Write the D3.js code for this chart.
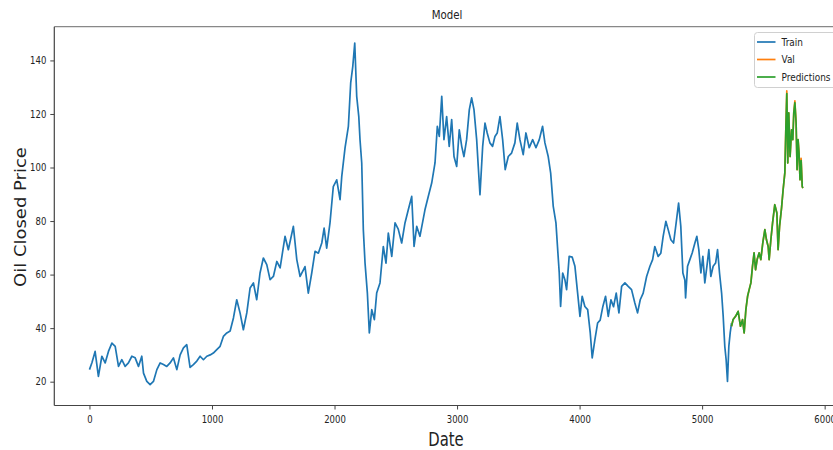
<!DOCTYPE html>
<html>
<head>
<meta charset="utf-8">
<script src="https://cdn.jsdelivr.net/npm/d3@7"></script>
<style>
  html, body { margin: 0; padding: 0; background: #ffffff; }
  svg { display: block; }
  text { font-family: "DejaVu Sans", sans-serif; fill: #222; }
</style>
</head>
<body>
<script>
// ---------------- DATA ----------------
const trainDay = [0,20,46,73,101,128,155,183,210,237,264,291,318,346,373,400,427,441,468,495,522,550,577,604,631,658,685,713,740,767,794,821,848,876,903,930,958,985,1011,1039,1066,1093,1121,1148,1175,1202,1229,1256,1284,1311,1338,1365,1392,1419,1447,1474,1501,1529,1556,1596,1623,1664,1692,1719,1746,1759,1786,1814,1841,1868,1896,1915,1936,1963,1990,2018,2045,2059,2086,2113,2132,2149,2165,2181,2198,2208,2222,2235,2249,2268,2284,2304,2325,2344,2371,2398,2420,2439,2467,2494,2520,2548,2575,2602,2630,2649,2671,2697,2738,2765,2793,2820,2839,2855,2875,2893,2915,2936,2956,2975,2997,3018,3038,3056,3078,3100,3119,3138,3160,3173,3187,3209,3228,3246,3268,3290,3309,3328,3350,3372,3393,3418,3445,3472,3491,3513,3540,3562,3589,3617,3644,3671,3698,3717,3744,3764,3785,3807,3823,3834,3845,3862,3880,3894,3915,3940,3962,3984,4003,4021,4043,4066,4087,4103,4125,4147,4168,4190,4212,4234,4256,4277,4299,4321,4343,4370,4397,4424,4451,4473,4495,4519,4547,4574,4596,4614,4641,4663,4682,4704,4723,4745,4767,4788,4808,4826,4843,4859,4865,4881,4900,4919,4941,4957,4973,4990,5006,5022,5039,5055,5071,5090,5110,5126,5142,5159,5172,5185,5196,5207,5218,5229,5240];
const trainClose = [24.5,27.1,31.3,22,29.5,27,31.3,34.4,33.2,25.7,28.2,25.7,27,29.5,28.9,25.7,29.5,23.2,20.1,18.9,20.1,24.5,27,26.4,25.7,27,28.9,24.5,30,32.6,33.8,25.3,26.4,27.7,29.5,28.2,29.5,30,30.7,32,33.2,36.9,38.2,38.9,43.8,50.6,45.7,39.4,45.7,55,56.9,50.6,60.6,66.2,63.7,58.1,59.3,64.9,62.5,74.3,69.3,78,65.6,59.3,61.8,63,53.1,60.6,68.7,68,71.8,77.4,69.9,79.3,92.9,95.4,88,96.7,107.4,115.4,131.6,137.8,146.5,126.6,119,110.4,101.7,76.8,64.3,53.1,38.2,46.9,43.2,53.1,56.9,70.5,64.3,75.5,66.8,79.3,77,71.8,79.3,84.2,89.2,70.5,78,74.3,84.2,89.2,94.2,101.7,115.4,111.6,126.6,110.4,119,107.9,117.9,104.1,100.4,114.1,107.9,104.1,110.4,121.6,126,121.6,110.4,100.4,89.8,107.9,116.6,112.9,109.2,107.9,111.6,112.9,119,110.4,99.2,104.1,105.4,109.2,116.6,110.4,104.8,112.9,107.4,110.4,107.4,110.4,115.4,109.2,104.1,97.9,85.5,79.3,68.1,60.6,48.1,60.6,58.1,54.4,66.8,66.5,63.1,53.1,44.4,51.9,48.1,46.9,38.2,28.9,35.7,41.9,43,48.1,51.9,44.4,50.6,48,53.1,45.7,55.6,56.9,55.6,54.4,49.4,45.7,50.6,53.1,59.3,63.1,65.6,70.5,66.8,68,74.3,79.9,76.8,73,71.8,79.3,86.7,78,60.6,58,51.3,63.1,65.6,68.1,71.8,74.3,69.3,60.6,66.8,56.9,63.1,69.3,59.3,63.1,64.3,69.3,60.6,53.1,44.4,33.2,28.2,20.1,33.2,38.2,41.9];

const valDay = [5240,5253,5273,5294,5313,5330,5343,5357,5371,5384,5398,5411,5424,5436,5449,5465,5479,5495,5512,5525,5539,5547,5561,5575,5593,5610,5620,5632,5648,5661,5675,5683,5691,5699,5707,5718,5730,5740,5748,5757,5767,5775,5783,5791,5799,5808,5817,5822];
const valClose = [40.7,43.2,44.4,46.3,40.7,43.2,38.2,46.9,51.9,54.4,56.9,63.1,68.1,61.8,65.6,68.1,65.6,71.8,76.8,73,70.5,65.6,73,79.3,86.1,83,69.3,78,84.8,91.7,98,114.1,128.6,101.7,120.4,104.1,114.1,110.4,120.4,124.9,116.6,99.2,110.4,105.4,95.4,103.4,92.9,92.3];
const predClose = [40.7,43.2,44.4,46.3,40.7,43.2,38.2,46.9,51.9,54.4,56.9,63.1,68.1,61.8,65.6,68.1,65.6,71.8,76.8,73,70.5,65.6,73,79.3,86.1,83,69.3,78,84.8,91.7,98,114.1,127.6,101.7,120.4,104.1,114.1,110.4,120.4,124.2,116.6,99.2,110.4,105.4,95.4,102.6,92.9,92.3];

const xTicks = [0,1000,2000,3000,4000,5000,6000];
const yTicks = [20,40,60,80,100,120,140];
const seriesNames = ["Train","Val","Predictions"];
const seriesColors = ["#1f77b4","#ff7f0e","#2ca02c"];

// ---------------- CHART ----------------
const W = 833, H = 450;
const L = 54.3, R = 838.5, T = 26.7, B = 405.5;
const SX = 0.85; // horizontal squeeze of the reference text

const svg = d3.select("body").append("svg").attr("width", W).attr("height", H);
svg.append("rect").attr("width", W).attr("height", H).attr("fill", "#fff");

const x = d3.scaleLinear().domain([-287, 6113]).range([L, R]);
const y = d3.scaleLinear().domain([11.1, 152.6]).range([B, T]);

svg.append("defs").append("clipPath").attr("id", "plot")
  .append("rect").attr("x", L).attr("y", T).attr("width", R - L).attr("height", B - T);

const line = d3.line().x(d => x(d[0])).y(d => y(d[1]));
const g = svg.append("g").attr("clip-path", "url(#plot)");

const trainData = trainDay.map((d, i) => [d, trainClose[i]]);
const valData = valDay.map((d, i) => [d, valClose[i]]);
const predData = valDay.map((d, i) => [d, predClose[i]]);

[trainData, valData, predData].forEach((data, k) => {
  g.append("path").datum(data)
    .attr("d", line)
    .attr("fill", "none")
    .attr("stroke", seriesColors[k])
    .attr("stroke-width", 1.7)
    .attr("stroke-linejoin", "round");
});

// axes
const xAxis = d3.axisBottom(x).tickValues(xTicks).tickFormat(d3.format("d")).tickSize(4).tickPadding(6);
const gx = svg.append("g").attr("transform", `translate(0,${B})`).call(xAxis);
gx.select(".domain").remove();
gx.selectAll("line").attr("stroke", "#444");
gx.selectAll("text").attr("font-size", 10).attr("fill", "#222")
  .attr("transform", `scale(${SX},1)`);

const yAxis = d3.axisLeft(y).tickValues(yTicks).tickFormat(d3.format("d")).tickSize(4).tickPadding(4);
const gy = svg.append("g").attr("transform", `translate(${L},0)`).call(yAxis);
gy.select(".domain").remove();
gy.selectAll("line").attr("stroke", "#444");
gy.selectAll("text").attr("font-size", 10).attr("fill", "#222")
  .attr("x", -9.4).attr("transform", `scale(${SX},1)`);

// spines
svg.append("line").attr("x1", L).attr("x2", R).attr("y1", T).attr("y2", T).attr("stroke", "#888").attr("stroke-width", 1.2);
svg.append("line").attr("x1", L).attr("x2", R).attr("y1", B).attr("y2", B).attr("stroke", "#444").attr("stroke-width", 1.2);
svg.append("line").attr("x1", L).attr("x2", L).attr("y1", T).attr("y2", B).attr("stroke", "#444").attr("stroke-width", 1.2);
svg.append("line").attr("x1", R).attr("x2", R).attr("y1", T).attr("y2", B).attr("stroke", "#444").attr("stroke-width", 1.2);

// title and labels
svg.append("text").attr("transform", `translate(447,18.5) scale(${SX},1)`)
  .attr("text-anchor", "middle").attr("font-size", 12).text("Model");
svg.append("text").attr("transform", `translate(446,445.5) scale(0.78,1)`)
  .attr("text-anchor", "middle").attr("font-size", 19).text("Date");
svg.append("text").attr("transform", `translate(25.5,217) scale(0.88,1) rotate(-90)`)
  .attr("text-anchor", "middle").attr("font-size", 18).text("Oil Closed Price");

// legend
const lg = svg.append("g");
lg.append("rect").attr("x", 754.5).attr("y", 32.5).attr("width", 82).attr("height", 55)
  .attr("rx", 3).attr("fill", "#fff").attr("fill-opacity", 0.85)
  .attr("stroke", "#d0d0d0").attr("stroke-width", 1);
const legY = [42, 59.5, 77];
seriesNames.forEach((name, k) => {
  lg.append("line").attr("x1", 757).attr("x2", 775.5).attr("y1", legY[k]).attr("y2", legY[k])
    .attr("stroke", seriesColors[k]).attr("stroke-width", 1.7);
  lg.append("text").attr("transform", `translate(781.5,${legY[k] + 3.6}) scale(${SX},1)`)
    .attr("font-size", 10.5).text(name);
});
</script>
</body>
</html>
